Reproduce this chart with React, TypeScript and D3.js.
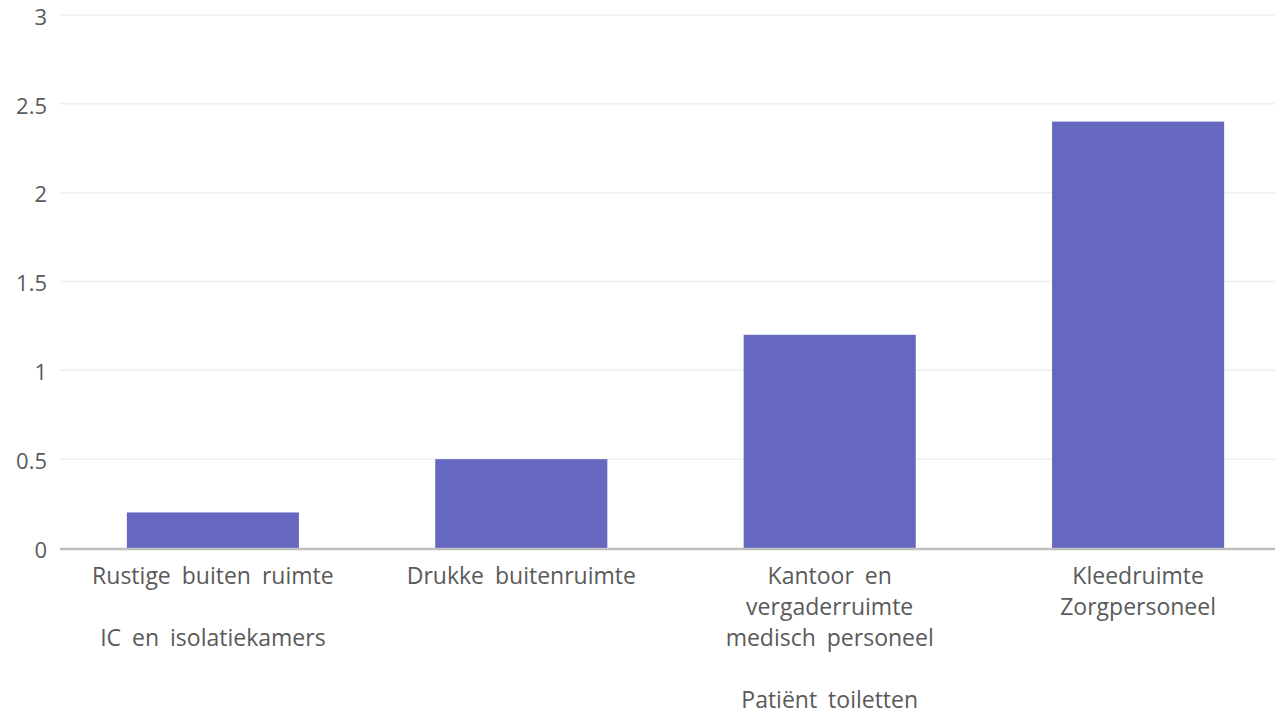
import * as d3 from 'd3';
import React from 'react';
import { useEffect, useRef } from 'react';

// category labels, one string per line (empty string = blank line)
const categories: string[][] = [
    ['Rustige buiten ruimte', '', 'IC en isolatiekamers'],
    ['Drukke buitenruimte'],
    ['Kantoor en', 'vergaderruimte', 'medisch personeel', '', 'Patiënt toiletten'],
    ['Kleedruimte', 'Zorgpersoneel'],
];
const values: number[] = [0.2, 0.5, 1.2, 2.4];
const yTicks: number[] = [0, 0.5, 1, 1.5, 2, 2.5, 3];

export default function App() {
    const ref = useRef<any>();

    useEffect(() => {
        const width = 1275;
        const height = 715;
        const svg = d3.select<any, any>(ref.current)
            .attr('width', width)
            .attr('height', height);
        svg.selectAll('*').remove();

        const font = "'Open Sans', 'Noto Sans', sans-serif";
        const plotLeft = 60;
        const plotRight = 1275;

        const xScale = d3.scaleBand<number>()
            .domain(d3.range(values.length))
            .range([59, 1292])
            .paddingInner(0.442)
            .paddingOuter(0.22);
        const yScale = d3.scaleLinear().domain([0, 3]).range([548, 15]);

        //grid
        svg.append('g').selectAll('line').data(yTicks.filter((t) => t !== 0)).join('line')
            .attr('x1', plotLeft)
            .attr('x2', plotRight)
            .attr('y1', (d) => yScale(d))
            .attr('y2', (d) => yScale(d))
            .attr('stroke', '#efefef')
            .attr('stroke-width', 1.5);

        //y labels
        svg.append('g').selectAll('text').data(yTicks).join('text')
            .attr('x', 47)
            .attr('y', (d) => yScale(d) + 2)
            .attr('dy', '0.35em')
            .attr('text-anchor', 'end')
            .attr('font-family', font)
            .attr('font-size', 22)
            .attr('fill', '#5a5a5a')
            .text((d) => `${d}`);

        //bars
        svg.append('g').selectAll('rect').data(values).join('rect')
            .attr('x', (d, i) => xScale(i) as number)
            .attr('width', xScale.bandwidth())
            .attr('y', (d) => yScale(d))
            .attr('height', (d) => yScale(0) - yScale(d))
            .attr('fill', '#6667c1');

        //axis line
        svg.append('line')
            .attr('x1', plotLeft)
            .attr('x2', plotRight)
            .attr('y1', yScale(0) + 1)
            .attr('y2', yScale(0) + 1)
            .attr('stroke', '#bfbfbf')
            .attr('stroke-width', 2.5);

        //category labels
        const labels = svg.append('g').selectAll('text').data(categories).join('text')
            .attr('text-anchor', 'middle')
            .attr('font-family', font)
            .attr('font-size', 23)
            .attr('word-spacing', 5)
            .attr('fill', '#5a5a5a');
        labels.each(function (lines, i) {
            const cx = (xScale(i) as number) + xScale.bandwidth() / 2;
            d3.select(this).selectAll('tspan').data(lines).join('tspan')
                .attr('x', cx)
                .attr('y', (l, j) => 584 + j * 31)
                .text((l) => l);
        });
    });

    return (
        <svg ref={ref} style={{ position: 'absolute', left: 0, top: 0, background: '#fff' }}></svg>
    );
}
